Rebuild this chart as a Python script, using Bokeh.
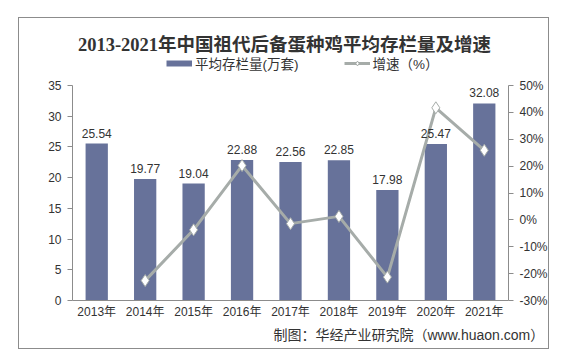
from bokeh.plotting import figure
from bokeh.models import (ColumnDataSource, Range1d, LinearAxis, FixedTicker, PrintfTickFormatter,
                          LabelSet, Label, Legend, LegendItem, FactorRange, Title)
from bokeh.embed import file_html
from bokeh.resources import INLINE
from bokeh.core.properties import value

years = ["2013年", "2014年", "2015年", "2016年", "2017年", "2018年", "2019年", "2020年", "2021年"]
stock = [25.54, 19.77, 19.04, 22.88, 22.56, 22.85, 17.98, 25.47, 32.08]
growth_years = ["2014年", "2015年", "2016年", "2017年", "2018年", "2019年", "2020年", "2021年"]
growth = [-22.6, -3.7, 20.2, -1.4, 1.3, -21.3, 41.7, 25.9]
left_ticks = [0, 5, 10, 15, 20, 25, 30, 35]
right_ticks = [-30, -20, -10, 0, 10, 20, 30, 40, 50]

BAR = "#67729a"
LINE = "#a6aca9"
TXT = "#333333"
AX = "#8c8c8c"
SANS = "Liberation Sans, Noto Sans CJK SC"

# layout (pixels)
W, H = 531, 332
ML, MR, MB = 53, 40, 50
FRAME_H = H - MB
AXIS_PX = 215
FRAME_W = W - ML - MR
ext = FRAME_H / AXIS_PX

def ydat(px):  # px above frame bottom -> left-axis data units
    return px * 35 / AXIS_PX

def xdat(px):  # px right of frame left -> categorical units
    return px * len(years) / FRAME_W

p = figure(width=W, height=H, x_range=FactorRange(*years), y_range=Range1d(0, 35 * ext),
           output_backend="svg", toolbar_location=None,
           min_border_left=ML, min_border_right=MR, min_border_top=0, min_border_bottom=MB)
p.margin = (17, 0, 0, 18)
p.styles = {"border": "1px solid #8c8c8c"}
p.outline_line_color = None
p.xgrid.grid_line_color = None
p.ygrid.grid_line_color = None
p.background_fill_color = "white"
p.border_fill_color = "white"
p.extra_y_ranges = {"pct": Range1d(-30, -30 + 80 * ext)}

src = ColumnDataSource(dict(x=years, y=stock, lbl=[f"{v:.2f}" for v in stock]))
gsrc = ColumnDataSource(dict(x=growth_years, y=growth))

p.vbar(x="x", top="y", width=0.46, source=src, fill_color=BAR, line_color=None)
ln = p.line(x="x", y="y", source=gsrc, y_range_name="pct", line_color=LINE, line_width=3)
sc = p.scatter(x="x", y="y", source=gsrc, y_range_name="pct", marker="diamond", size=12,
               fill_color="white", line_color=LINE, line_width=1)

labels = LabelSet(x="x", y="y", text="lbl", source=src, y_offset=6, text_align="center",
                  text_baseline="bottom", text_font=value(SANS), text_font_size="12px",
                  text_color=TXT)
p.add_layout(labels)

ax = p.yaxis[0]
ax.ticker = FixedTicker(ticks=left_ticks)
ax.bounds = (0, 35)
ax.axis_line_color = AX
ax.major_tick_line_color = AX
ax.major_tick_in = 0
ax.major_tick_out = 5
ax.minor_tick_line_color = None
ax.major_label_text_font = SANS
ax.major_label_text_font_size = "12px"
ax.major_label_text_color = TXT
ax.major_label_standoff = 6

rax = LinearAxis(y_range_name="pct", ticker=FixedTicker(ticks=right_ticks),
                 formatter=PrintfTickFormatter(format="%d%%"), bounds=(-30, 50))
rax.axis_line_color = AX
rax.major_tick_line_color = AX
rax.major_tick_in = 0
rax.major_tick_out = 5
rax.minor_tick_line_color = None
rax.major_label_text_font = SANS
rax.major_label_text_font_size = "12px"
rax.major_label_text_color = TXT
rax.major_label_standoff = 6
p.add_layout(rax, "right")

xa = p.xaxis[0]
xa.axis_line_color = AX
xa.major_tick_line_color = None
xa.major_tick_out = 0
xa.major_tick_in = 0
xa.major_label_text_font = SANS
xa.major_label_text_font_size = "12px"
xa.major_label_text_color = TXT
xa.major_label_standoff = 4

# legend swatch for the bars: a line renderer with one undefined point
swatch = p.line(x=[years[0]], y=[float("nan")], line_color=BAR, line_width=6)
legend = Legend(items=[LegendItem(label="平均存栏量(万套)", renderers=[swatch]),
                       LegendItem(label="增速（%）", renderers=[ln, sc])],
                orientation="horizontal", location=(94, 227), glyph_width=26, glyph_height=12,
                label_standoff=3, spacing=45, padding=0, margin=0,
                label_text_font=SANS, label_text_font_size="13.5px", label_text_color=TXT,
                border_line_color=None, background_fill_alpha=0)
p.add_layout(legend, "center")

title = Label(x=xdat(213), y=ydat(256), text="2013-2021年中国祖代后备蛋种鸡平均存栏量及增速",
              text_align="center", text_baseline="middle",
              text_font="Liberation Serif, Noto Sans CJK SC", text_font_size="18.5px",
              text_font_style="bold", text_color=TXT)
p.add_layout(title)

foot = Title(text="制图：华经产业研究院（www.huaon.com）", align="left", offset=201,
             text_font=SANS, text_font_size="14px", text_font_style="normal",
             text_color=TXT, standoff=6)
p.add_layout(foot, "below")

open("out.html", "w").write(file_html(p, INLINE))
